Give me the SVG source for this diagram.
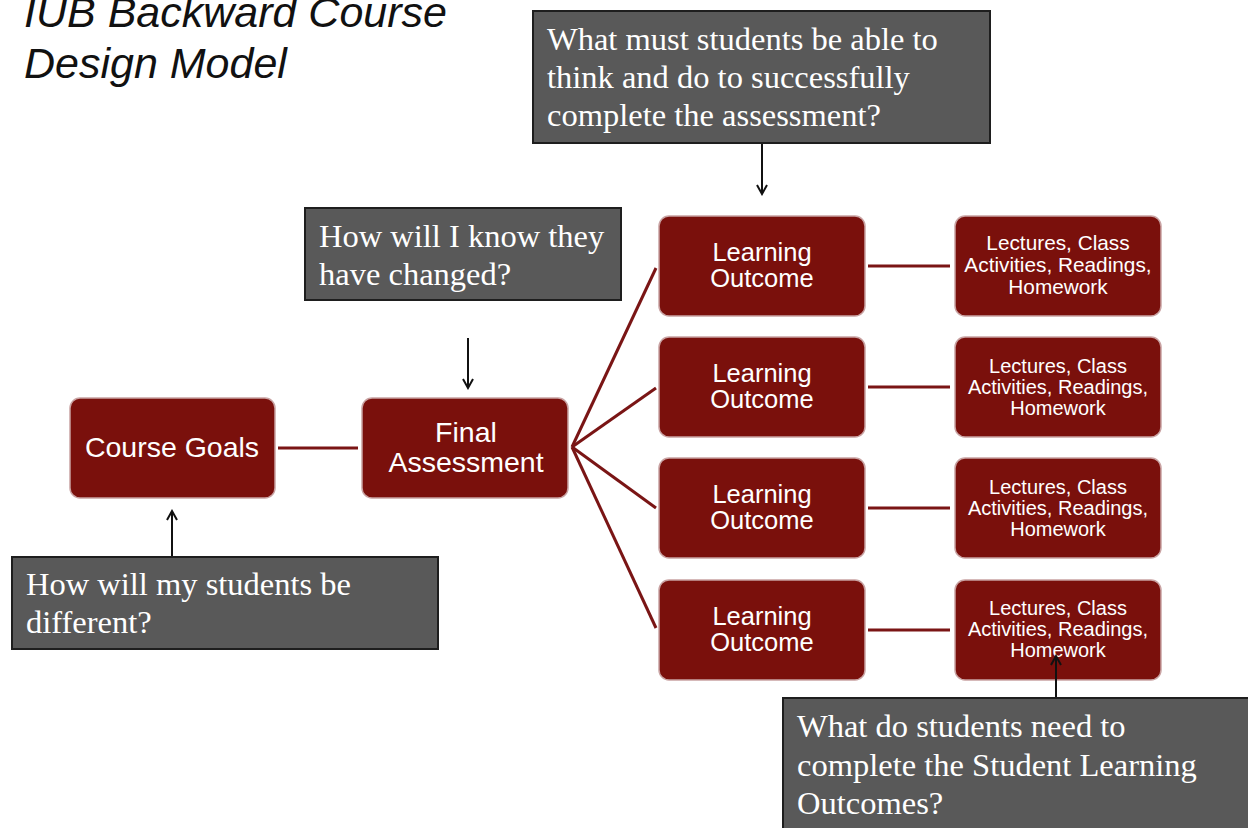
<svg xmlns="http://www.w3.org/2000/svg" width="1248" height="828" viewBox="0 0 1248 828">
  <defs>
    <style>
      .node { fill: #7a100c; stroke: #c9a3a3; stroke-width: 1.5; }
      .q { fill: #595959; stroke: #1e1e1e; stroke-width: 2; }
      .nt { font-family: "Liberation Sans", Arial, sans-serif; fill: #ffffff; text-anchor: middle; }
      .qt { font-family: "Liberation Serif", "Times New Roman", serif; fill: #ffffff; font-size: 32.5px; }
      .link { stroke: #7a1515; stroke-width: 3; fill: none; }
      .arrow { stroke: #111111; stroke-width: 2; fill: none; }
    </style>
    <marker id="ah" viewBox="0 0 12 12" refX="10" refY="6" markerWidth="12" markerHeight="12" markerUnits="userSpaceOnUse" orient="auto">
      <path d="M1,1 L10,6 L1,11" fill="none" stroke="#111111" stroke-width="2"/>
    </marker>
  </defs>

  <rect width="1248" height="828" fill="#ffffff"/>

  <!-- title -->
  <g id="title" font-family="Liberation Sans, Arial, sans-serif" font-style="italic" font-size="43" fill="#111111">
    <text x="24" y="27">IUB Backward Course</text>
    <text x="24" y="78">Design Model</text>
  </g>

  <!-- main nodes -->
  <g id="course-goals">
    <rect class="node" x="70" y="398" width="205" height="100" rx="10"/>
    <text class="nt" x="172" y="457" font-size="28.5">Course Goals</text>
  </g>
  <g id="final-assessment">
    <rect class="node" x="362" y="398" width="206" height="100" rx="10"/>
    <text class="nt" x="466" y="442" font-size="28.5">Final</text>
    <text class="nt" x="466" y="472" font-size="28.5">Assessment</text>
  </g>

  <g id="outcome-1">
    <rect class="node" x="659" y="216" width="206" height="100" rx="10"/>
    <text class="nt" x="762" y="261" font-size="25.5">Learning</text>
    <text class="nt" x="762" y="287" font-size="25.5">Outcome</text>
  </g>
  <g id="outcome-2">
    <rect class="node" x="659" y="337" width="206" height="100" rx="10"/>
    <text class="nt" x="762" y="382" font-size="25.5">Learning</text>
    <text class="nt" x="762" y="408" font-size="25.5">Outcome</text>
  </g>
  <g id="outcome-3">
    <rect class="node" x="659" y="458" width="206" height="100" rx="10"/>
    <text class="nt" x="762" y="503" font-size="25.5">Learning</text>
    <text class="nt" x="762" y="529" font-size="25.5">Outcome</text>
  </g>
  <g id="outcome-4">
    <rect class="node" x="659" y="580" width="206" height="100" rx="10"/>
    <text class="nt" x="762" y="625" font-size="25.5">Learning</text>
    <text class="nt" x="762" y="651" font-size="25.5">Outcome</text>
  </g>

  <g id="activities-1">
    <rect class="node" x="955" y="216" width="206" height="100" rx="10"/>
    <text class="nt" x="1058" y="250" font-size="20.8">Lectures, Class</text>
    <text class="nt" x="1058" y="272" font-size="20.8">Activities, Readings,</text>
    <text class="nt" x="1058" y="294" font-size="20.8">Homework</text>
  </g>
  <g id="activities-2">
    <rect class="node" x="955" y="337" width="206" height="100" rx="10"/>
    <text class="nt" x="1058" y="373" font-size="20">Lectures, Class</text>
    <text class="nt" x="1058" y="394" font-size="20">Activities, Readings,</text>
    <text class="nt" x="1058" y="415" font-size="20">Homework</text>
  </g>
  <g id="activities-3">
    <rect class="node" x="955" y="458" width="206" height="100" rx="10"/>
    <text class="nt" x="1058" y="494" font-size="20">Lectures, Class</text>
    <text class="nt" x="1058" y="515" font-size="20">Activities, Readings,</text>
    <text class="nt" x="1058" y="536" font-size="20">Homework</text>
  </g>
  <g id="activities-4">
    <rect class="node" x="955" y="580" width="206" height="100" rx="10"/>
    <text class="nt" x="1058" y="615" font-size="20">Lectures, Class</text>
    <text class="nt" x="1058" y="636" font-size="20">Activities, Readings,</text>
    <text class="nt" x="1058" y="657" font-size="20">Homework</text>
  </g>

  <!-- connectors (drawn over the nodes so the bottom arrow reaches into its box) -->
  <g id="connectors">
    <line class="link" x1="278" y1="448" x2="358" y2="448"/>
    <line class="link" x1="572" y1="447" x2="656" y2="268"/>
    <line class="link" x1="572" y1="447" x2="656" y2="388"/>
    <line class="link" x1="572" y1="447" x2="656" y2="508"/>
    <line class="link" x1="572" y1="447" x2="656" y2="628"/>
    <line class="link" x1="868" y1="266" x2="950" y2="266"/>
    <line class="link" x1="868" y1="387" x2="950" y2="387"/>
    <line class="link" x1="868" y1="508" x2="950" y2="508"/>
    <line class="link" x1="868" y1="630" x2="950" y2="630"/>
    <line class="arrow" x1="762" y1="144" x2="762" y2="194" marker-end="url(#ah)"/>
    <line class="arrow" x1="468" y1="338" x2="468" y2="388" marker-end="url(#ah)"/>
    <line class="arrow" x1="172" y1="556" x2="172" y2="511" marker-end="url(#ah)"/>
    <line class="arrow" x1="1056" y1="698" x2="1056" y2="656" marker-end="url(#ah)"/>
  </g>

  <!-- question callouts -->
  <g id="q-think">
    <rect class="q" x="533" y="11" width="457" height="132"/>
    <text class="qt" x="547" y="50">What must students be able to</text>
    <text class="qt" x="547" y="88">think and do to successfully</text>
    <text class="qt" x="547" y="126">complete the assessment?</text>
  </g>
  <g id="q-know">
    <rect class="q" x="305" y="208" width="316" height="92"/>
    <text class="qt" x="319" y="247">How will I know they</text>
    <text class="qt" x="319" y="285">have changed?</text>
  </g>
  <g id="q-different">
    <rect class="q" x="12" y="557" width="426" height="92"/>
    <text class="qt" x="26" y="595">How will my students be</text>
    <text class="qt" x="26" y="633">different?</text>
  </g>
  <g id="q-need">
    <rect class="q" x="783" y="698" width="470" height="136"/>
    <text class="qt" x="797" y="737">What do students need to</text>
    <text class="qt" x="797" y="776">complete the Student Learning</text>
    <text class="qt" x="797" y="814">Outcomes?</text>
  </g>
</svg>
